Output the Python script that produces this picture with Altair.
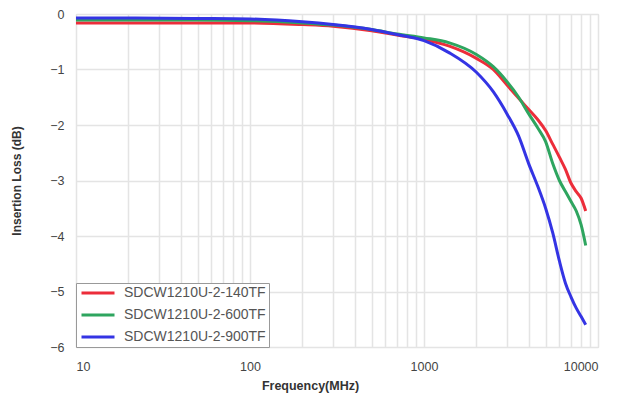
import altair as alt
import pandas as pd

freqs = [10, 20, 50, 100, 200, 300, 500, 700, 1000, 1400, 2000, 2500, 3000,
         3500, 4000, 4500, 5000, 5500, 6000, 6500, 7000, 7500, 8000, 8500]

series_names = ["SDCW1210U-2-140TF", "SDCW1210U-2-600TF", "SDCW1210U-2-900TF"]

red_140 = [-0.16, -0.16, -0.16, -0.16, -0.19, -0.22, -0.30, -0.38, -0.46, -0.58, -0.80, -1.00,
           -1.28, -1.52, -1.72, -1.90, -2.10, -2.35, -2.58, -2.80, -3.05, -3.20, -3.32, -3.55]
green_600 = [-0.11, -0.11, -0.11, -0.12, -0.16, -0.20, -0.28, -0.36, -0.43, -0.52, -0.73, -0.95,
             -1.22, -1.50, -1.80, -2.05, -2.30, -2.70, -3.00, -3.20, -3.38, -3.55, -3.80, -4.17]
blue_900 = [-0.07, -0.07, -0.08, -0.09, -0.14, -0.19, -0.28, -0.37, -0.48, -0.70, -1.05, -1.40,
            -1.80, -2.20, -2.70, -3.10, -3.50, -3.95, -4.45, -4.85, -5.10, -5.30, -5.45, -5.60]

colors = ["#ec2d3a", "#2ea55f", "#3434e4"]

x_ticks = [10, 100, 1000, 10000]
x_grid = [m * 10 ** e for e in range(1, 4) for m in range(1, 10)] + [10000]
y_ticks = [0, -1, -2, -3, -4, -5, -6]

rows = []
for name, vals in zip(series_names, [red_140, green_600, blue_900]):
    for f, v in zip(freqs, vals):
        rows.append({"Frequency": f, "Loss": v, "Series": name})
df = pd.DataFrame(rows)

lines = alt.Chart(df).mark_line(strokeWidth=3, interpolate="monotone").encode(
    x=alt.X("Frequency:Q",
            scale=alt.Scale(type="log", domain=[10, 10000], nice=False),
            axis=alt.Axis(values=x_grid, title="Frequency(MHz)",
                          labelExpr="indexof([10,100,1000,10000], datum.value) >= 0 ? datum.label : ''",
                          format="d", grid=True, gridColor="#e4e4e4", gridWidth=1.5,
                          ticks=False, domain=False, labelPadding=13,
                          labelFontSize=12.5, labelColor="#444", labelFont="Liberation Sans",
                          titleFont="Liberation Sans", titleFontSize=12.5, titleFontWeight="bold",
                          titleColor="#333", titlePadding=7, titleX=234)),
    y=alt.Y("Loss:Q",
            scale=alt.Scale(domain=[-6, 0], nice=False),
            axis=alt.Axis(values=y_ticks, title="Insertion Loss (dB)",
                          grid=True, gridColor="#e4e4e4", gridWidth=1.5,
                          ticks=False, domain=False, labelPadding=12,
                          labelFontSize=12.5, labelColor="#444", labelFont="Liberation Sans",
                          titleFont="Liberation Sans", titleFontSize=12, titleFontWeight="bold",
                          titleColor="#333", titlePadding=26)),
    color=alt.Color("Series:N",
                    scale=alt.Scale(domain=series_names, range=colors),
                    legend=alt.Legend(title=None, orient="none", legendX=0, legendY=269,
                                      symbolType="M-3,0H3", symbolStrokeWidth=3,
                                      symbolSize=121, symbolOffset=12,
                                      labelFontSize=14, labelColor="#555",
                                      labelFont="Liberation Sans", labelOffset=19,
                                      strokeColor="#999", padding=3, fillColor="white",
                                      rowPadding=8)),
    order=alt.Order("Frequency:Q"),
)

chart = lines.properties(
    width=522, height=333,
    padding={"left": 68, "top": 6, "right": 14, "bottom": 49},
    autosize=alt.AutoSizeParams(type="none"),
).configure_view(stroke="#aaa", strokeWidth=1.5).configure(background="white")

chart.save("out.html", embed_options={"renderer": "svg", "actions": False})
